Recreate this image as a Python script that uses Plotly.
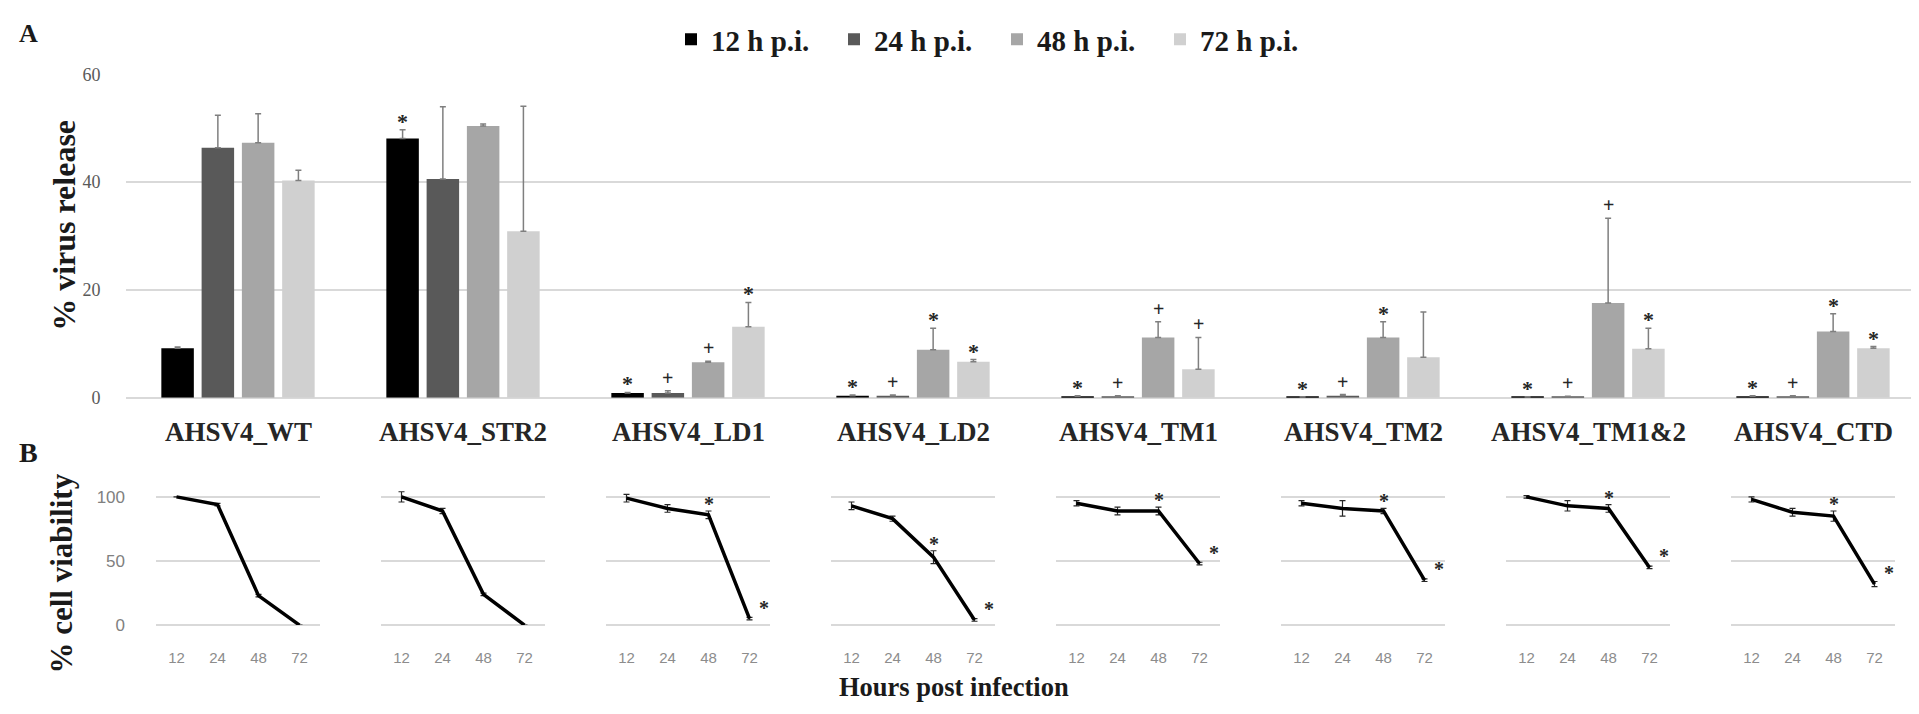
import plotly.graph_objects as go

# ---------------- data ----------------
categories = ["AHSV4_WT", "AHSV4_STR2", "AHSV4_LD1", "AHSV4_LD2",
              "AHSV4_TM1", "AHSV4_TM2", "AHSV4_TM1&2", "AHSV4_CTD"]
series_names = ["12 h p.i.", "24 h p.i.", "48 h p.i.", "72 h p.i."]

release_12 = [9.2, 48.1, 0.9, 0.4, 0.3, 0.1, 0.1, 0.3]
release_24 = [46.4, 40.6, 0.9, 0.4, 0.3, 0.4, 0.2, 0.3]
release_48 = [47.3, 50.4, 6.6, 8.9, 11.2, 11.2, 17.6, 12.3]
release_72 = [40.3, 30.9, 13.2, 6.7, 5.3, 7.5, 9.1, 9.2]

err_12 = [0.2, 1.6, 0.1, 0.1, 0.1, 0.1, 0.1, 0.1]
err_24 = [6.0, 13.4, 0.4, 0.1, 0.1, 0.2, 0.1, 0.1]
err_48 = [5.4, 0.4, 0.2, 4.0, 2.9, 2.9, 15.7, 3.3]
err_72 = [1.9, 23.2, 4.5, 0.4, 5.9, 8.4, 3.8, 0.3]

sig_12 = ["", "*", "*", "*", "*", "*", "*", "*"]
sig_24 = ["", "", "+", "+", "+", "+", "+", "+"]
sig_48 = ["", "", "+", "*", "+", "*", "+", "*"]
sig_72 = ["", "", "*", "*", "+", "", "*", "*"]

hours = ["12", "24", "48", "72"]
viability = [
    [100, 94, 23, 0],    # WT
    [100, 89, 24, 0],    # STR2
    [99, 91, 86, 5],     # LD1
    [93, 83, 53, 4],     # LD2
    [95, 89, 89, 48],    # TM1
    [95, 91, 89, 35],    # TM2
    [100, 93, 91, 45],   # TM1&2
    [98, 88, 85, 32],    # CTD
]
viability_err = [
    [0, 1, 1, 0],
    [4, 2, 1, 0],
    [3, 3, 3, 1],
    [3, 2, 5, 1],
    [2, 3, 3, 1],
    [2, 6, 2, 1],
    [1, 4, 3, 1],
    [2, 3, 4, 2],
]
viability_sig = [
    ["", "", "", ""],
    ["", "", "", ""],
    ["", "", "*", "*"],
    ["", "", "*", "*"],
    ["", "", "*", "*"],
    ["", "", "*", "*"],
    ["", "", "*", "*"],
    ["", "", "*", "*"],
]

bar_colors = ["#000000", "#595959", "#a6a6a6", "#d0d0d0"]

# ---------------- layout helpers (page pixel -> paper) ----------------
PAGE_W, PAGE_H = 1919, 714
OFF = 8                       # default body margin of the html page
FW, FH = PAGE_W - 2 * OFF, PAGE_H - 2 * OFF

def px(x):
    return (x - OFF) / FW

def py(y):
    return 1 - (y - OFF) / FH

SERIF = "Liberation Serif"
SANS = "Liberation Sans"
GRID = "#d9d9d9"
DARK = "#1a1a1a"
top_left = 125.5
pitch = 225.0
bargap = 0.284
bargroupgap = 0.193
slot = (1 - bargap) / 4

fig = go.Figure()

releases = [release_12, release_24, release_48, release_72]
errs = [err_12, err_24, err_48, err_72]
sigs = [sig_12, sig_24, sig_48, sig_72]

annotations = []
for k, (name, vals, e, s, col) in enumerate(zip(series_names, releases, errs, sigs, bar_colors)):
    fig.add_trace(go.Bar(
        x=categories, y=vals, name=name,
        marker=dict(color=col, line=dict(width=0)),
        error_y=dict(type="data", array=e, arrayminus=[0] * len(e), symmetric=False,
                     color="#7f7f7f", thickness=1.5, width=3),
        xaxis="x", yaxis="y",
    ))
    for i, (v, ev, mark) in enumerate(zip(vals, e, s)):
        if mark:
            annotations.append(dict(
                x=i + (k - 1.5) * slot, y=v + ev, xref="x", yref="y",
                text=mark, showarrow=False, xanchor="center", yanchor="bottom",
                yshift=(-6 if mark == "*" else 0),
                font=dict(family=SERIF, size=22 if mark == "*" else 20, color="#262626", weight="bold"),
            ))

layout_axes = {}
layout_axes["xaxis"] = dict(
    domain=[px(top_left), 1], type="category",
    range=[-0.5, -0.5 + (PAGE_W - OFF - top_left) / pitch],
    showticklabels=False, showgrid=False, showline=False, ticks="", zeroline=False,
)
layout_axes["yaxis"] = dict(
    domain=[py(399), py(66)], range=[0, 60], dtick=20,
    showgrid=True, gridcolor=GRID, gridwidth=2,
    zeroline=True, zerolinecolor=GRID, zerolinewidth=2,
    showline=False, ticks="", ticklabelstandoff=24,
    tickfont=dict(family=SERIF, size=18, color="#595959"),
)

for i, cat in enumerate(categories):
    n = i + 2
    center = top_left + (i + 0.5) * pitch
    fig.add_trace(go.Scatter(
        x=hours, y=viability[i], mode="lines",
        line=dict(color="black", width=3.5),
        error_y=dict(type="data", array=viability_err[i], color="#262626", thickness=1.2, width=3),
        xaxis=f"x{n}", yaxis=f"y{n}", showlegend=False,
    ))
    layout_axes[f"xaxis{n}"] = dict(
        domain=[px(center - 82), px(center + 82)], type="category",
        range=[-0.5, 3.5], anchor=f"y{n}",
        showgrid=False, showline=False, ticks="", zeroline=False,
        ticklabelstandoff=22,
        tickfont=dict(family=SANS, size=15, color="#8c8c8c"),
    )
    layout_axes[f"yaxis{n}"] = dict(
        domain=[py(633), py(633 - 1.32 * 112)], range=[0, 112], dtick=50,
        anchor=f"x{n}",
        showgrid=True, gridcolor=GRID, gridwidth=2,
        zeroline=True, zerolinecolor=GRID, zerolinewidth=2,
        showline=False, ticks="", showticklabels=(i == 0), ticklabelstandoff=30,
        tickfont=dict(family=SANS, size=17, color="#808080"),
    )
    annotations.append(dict(
        x=px(center), y=py(434), xref="paper", yref="paper", text=cat, showarrow=False,
        xanchor="center", yanchor="middle",
        font=dict(family=SERIF, size=27, color="#262626", weight="bold"),
    ))
    for j, mark in enumerate(viability_sig[i]):
        if mark:
            at_end = (j == len(hours) - 1)
            annotations.append(dict(
                x=j, y=viability[i][j] + (0 if at_end else viability_err[i][j]),
                xref=f"x{n}", yref=f"y{n}", text=mark, showarrow=False,
                xanchor="center", yanchor="bottom",
                xshift=(14 if at_end else 0), yshift=(-2 if at_end else -6),
                font=dict(family=SERIF, size=20, color="#262626", weight="bold"),
            ))

annotations += [
    dict(x=px(28), y=py(24), xref="paper", yref="paper", text="A", showarrow=False,
         xanchor="center", yanchor="middle",
         font=dict(family=SERIF, size=26, color=DARK, weight="bold")),
    dict(x=px(28), y=py(455), xref="paper", yref="paper", text="B", showarrow=False,
         xanchor="center", yanchor="middle",
         font=dict(family=SERIF, size=28, color=DARK, weight="bold")),
    dict(x=px(64), y=py(222), xref="paper", yref="paper", text="% virus release",
         textangle=-90, showarrow=False, xanchor="center", yanchor="middle",
         font=dict(family=SERIF, size=32, color=DARK, weight="bold")),
    dict(x=px(62), y=py(580), xref="paper", yref="paper", text="% cell viability",
         textangle=-90, showarrow=False, xanchor="center", yanchor="middle",
         font=dict(family=SERIF, size=31, color=DARK, weight="bold")),
    dict(x=px(954), y=py(697), xref="paper", yref="paper", text="Hours post infection",
         showarrow=False, xanchor="center", yanchor="middle",
         font=dict(family=SERIF, size=26.5, color=DARK, weight="bold")),
]

fig.update_layout(
    width=FW, height=FH, autosize=False,
    margin=dict(l=0, r=0, t=0, b=0),
    paper_bgcolor="white", plot_bgcolor="white",
    barmode="group", bargap=bargap, bargroupgap=bargroupgap,
    legend=dict(orientation="h", x=px(671), xanchor="left", y=py(30), yanchor="middle",
                entrywidth=118, entrywidthmode="pixels", itemwidth=30,
                font=dict(family=SERIF, size=29, color=DARK, weight="bold"),
                bgcolor="rgba(0,0,0,0)"),
    annotations=annotations,
    **layout_axes,
)

fig.write_html("out.html")
